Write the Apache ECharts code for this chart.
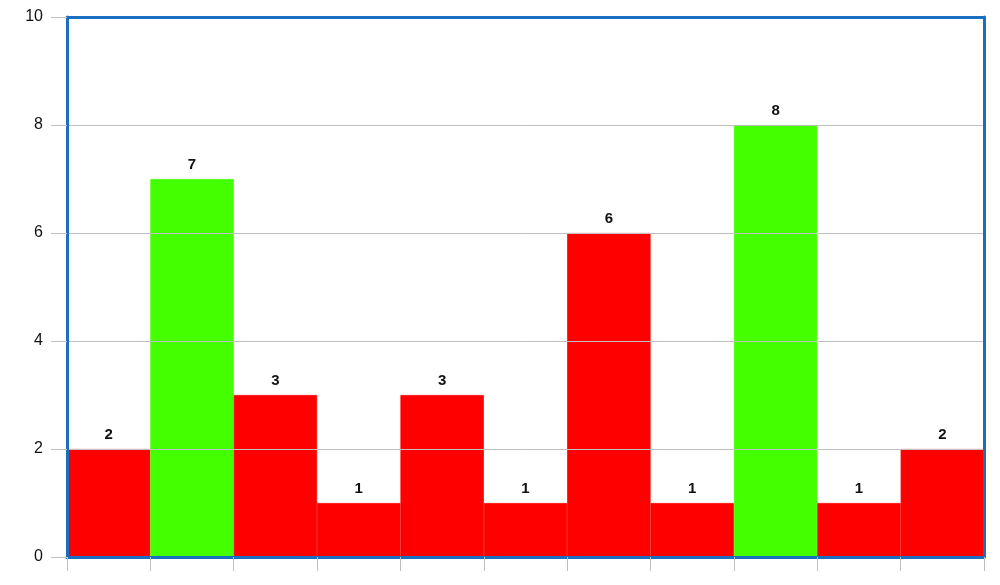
<!DOCTYPE html>
<html><head><meta charset="utf-8">
<script src="https://cdn.jsdelivr.net/npm/echarts@6/dist/echarts.min.js"></script>
<style>html,body{margin:0;padding:0;background:#fff}#c{width:1000px;height:585px}</style>
</head><body><div id="c"></div>
<script>
const categories = ['A','B','C','D','E','F','G','H','I','J','K'];
const values = [2,7,3,1,3,1,6,1,8,1,2];
const highlighted = [false,true,false,false,false,false,false,false,true,false,false];
const yTicks = [0,2,4,6,8,10];

const RED = '#ff0000', GREEN = '#44ff00', BLUE = '#1a6fc0', GRAY = '#c0c0c0';
const chart = echarts.init(document.getElementById('c'), null, {renderer:'canvas'});
chart.setOption({
  animation:false,
  grid:{left:67, right:16, top:17, bottom:28, show:false},
  xAxis:[
    {type:'category', data:categories, position:'bottom', z:5,
     axisLine:{show:true, onZero:false, lineStyle:{color:BLUE, width:3}},
     axisTick:{show:true, length:14, alignWithLabel:false, lineStyle:{color:GRAY, width:1}},
     axisLabel:{show:false}, splitLine:{show:false}},
    {type:'category', data:categories, position:'top', z:5,
     axisLine:{show:true, onZero:false, lineStyle:{color:BLUE, width:3}},
     axisTick:{show:false}, axisLabel:{show:false}, splitLine:{show:false}}
  ],
  yAxis:[
    {type:'value', min:0, max:10, interval:2, position:'left', z:5,
     axisLine:{show:true, onZero:false, lineStyle:{color:BLUE, width:3}},
     axisTick:{show:true, length:16, lineStyle:{color:GRAY, width:1}},
     axisLabel:{show:true, margin:24, color:'#111', fontSize:16, fontFamily:'Liberation Sans, Arial, sans-serif',
       formatter:v => yTicks.includes(v) ? String(v) : ''},
     splitLine:{show:true, lineStyle:{color:GRAY, width:1}}},
    {type:'value', min:0, max:10, interval:2, position:'right', z:5,
     axisLine:{show:true, onZero:false, lineStyle:{color:BLUE, width:3}},
     axisTick:{show:false}, axisLabel:{show:false}, splitLine:{show:false}}
  ],
  series:[{
    type:'bar', xAxisIndex:0, yAxisIndex:0, barCategoryGap:'0%', z:2,
    data: values.map((v,i)=>{const c = highlighted[i]?GREEN:RED; return {value:v, itemStyle:{color:c, borderColor:c, borderWidth:0.8}};}),
    label:{show:true, position:'top', distance:7, color:'#111', fontWeight:'bold', fontSize:15,
      fontFamily:'Liberation Sans, Arial, sans-serif'}
  }]
});
</script></body></html>
